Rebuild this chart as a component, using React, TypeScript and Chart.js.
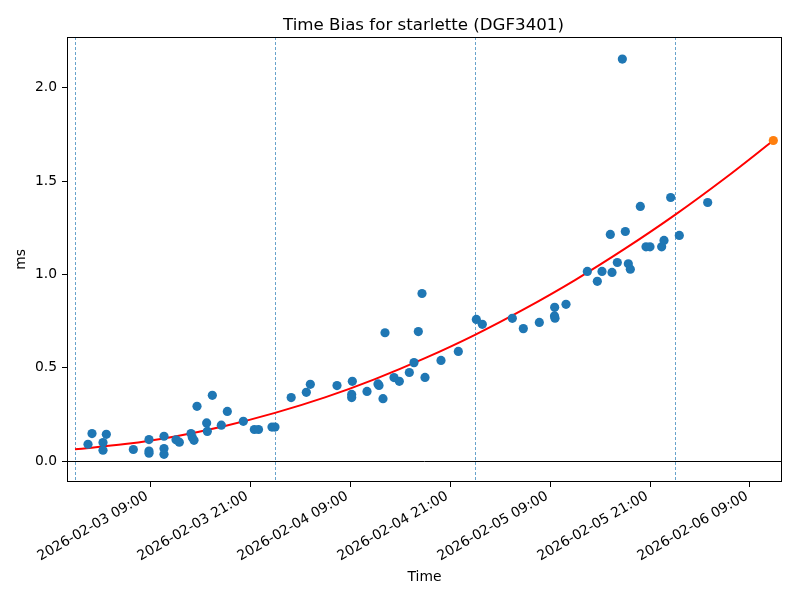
import React, { useEffect, useRef } from "react";
import { Chart, registerables } from "chart.js";

Chart.register(...registerables);

// Hours since 2026-02-03 00:00
const biasHours = [
  1.56, 2.04, 3.36, 3.36, 3.76, 7.0, 8.88, 8.88, 8.88, 10.68, 10.68, 10.68,
  12.12, 12.52, 13.92, 14.08, 14.28, 14.64, 15.8, 15.88, 16.48, 17.56, 18.28,
  20.2, 21.52, 22.02, 23.64, 24.0, 25.94, 27.76, 28.24, 31.44, 33.28, 33.2,
  33.2, 35.04, 36.48, 36.36, 36.96, 37.2, 38.28, 38.92, 40.12, 40.68, 41.2,
  41.64, 42.0, 43.92, 46.0, 48.16, 48.88, 52.48, 53.8, 55.72, 57.56, 57.6,
  57.54, 58.92, 61.48, 62.68, 63.24, 64.44, 64.24, 65.08, 65.68, 66.04, 66.4,
  66.64, 67.84, 68.52, 69.0, 70.4, 70.68, 71.48, 72.52, 75.92,
];
const biasMs = [
  0.091, 0.148, 0.1, 0.059, 0.144, 0.063, 0.116, 0.055, 0.043, 0.134, 0.068,
  0.037, 0.115, 0.102, 0.148, 0.127, 0.112, 0.294, 0.205, 0.16, 0.353, 0.193,
  0.267, 0.214, 0.17, 0.17, 0.183, 0.183, 0.341, 0.369, 0.412, 0.405, 0.428,
  0.358, 0.341, 0.374, 0.406, 0.414, 0.335, 0.688, 0.448, 0.428, 0.475, 0.528,
  0.694, 0.898, 0.449, 0.54, 0.588, 0.759, 0.733, 0.765, 0.71, 0.743, 0.824,
  0.766, 0.778, 0.84, 1.016, 0.963, 1.016, 1.011, 1.214, 1.064, 2.153, 1.23,
  1.057, 1.028, 1.364, 1.148, 1.148, 1.148, 1.182, 1.412, 1.209, 1.385,
];

const fitHours = [0, 6, 12, 18, 24, 30, 36, 42, 48, 54, 60, 66, 72, 78, 83.8];
const fitMs = [
  0.064, 0.092, 0.133, 0.189, 0.259, 0.342, 0.44, 0.552, 0.677, 0.817, 0.97,
  1.138, 1.319, 1.515, 1.717,
];

const predHours = [83.8];
const predMs = [1.717];

const midnightHours = [0, 24, 48, 72];

const xTickHours = [9, 21, 33, 45, 57, 69, 81];
const xTickLabels = [
  "2026-02-03 09:00",
  "2026-02-03 21:00",
  "2026-02-04 09:00",
  "2026-02-04 21:00",
  "2026-02-05 09:00",
  "2026-02-05 21:00",
  "2026-02-06 09:00",
];
const yTicks = [0, 0.5, 1.0, 1.5, 2.0];
const yTickLabels = ["0.0", "0.5", "1.0", "1.5", "2.0"];

const X_MIN = -0.96;
const X_MAX = 84.84;
const Y_MIN = -0.111;
const Y_MAX = 2.271;

const FONT = "'DejaVu Sans', sans-serif";
const TITLE = "Time Bias for starlette (DGF3401)";

const decorPlugin = {
  id: "decor",
  beforeDatasetsDraw(chart: any) {
    const { ctx, chartArea: a, scales } = chart;
    const x = scales.x;
    const y = scales.y;
    ctx.save();
    ctx.beginPath();
    ctx.rect(a.left, a.top, a.right - a.left, a.bottom - a.top);
    ctx.clip();
    ctx.strokeStyle = "rgba(31,119,180,0.85)";
    ctx.lineWidth = 0.8;
    ctx.setLineDash([3, 2]);
    for (const h of midnightHours) {
      const px = Math.round(x.getPixelForValue(h)) + 0.5;
      ctx.beginPath();
      ctx.moveTo(px, a.top);
      ctx.lineTo(px, a.bottom);
      ctx.stroke();
    }
    ctx.setLineDash([]);
    ctx.strokeStyle = "#000";
    ctx.lineWidth = 1;
    const py = Math.round(y.getPixelForValue(0)) + 0.5;
    ctx.beginPath();
    ctx.moveTo(a.left, py);
    ctx.lineTo(a.right, py);
    ctx.stroke();
    ctx.restore();
  },
  afterDraw(chart: any) {
    const { ctx, chartArea: a } = chart;
    ctx.save();
    ctx.strokeStyle = "#000";
    ctx.lineWidth = 1;
    ctx.strokeRect(
      Math.round(a.left) + 0.5,
      Math.round(a.top) + 0.5,
      Math.round(a.right - a.left) - 1,
      Math.round(a.bottom - a.top) - 1
    );
    ctx.fillStyle = "#000";
    ctx.font = `16.67px ${FONT}`;
    ctx.textAlign = "center";
    ctx.textBaseline = "alphabetic";
    ctx.fillText(TITLE, (a.left + a.right) / 2 - 1, 29.5);
    ctx.restore();
  },
};

export default function App() {
  const ref = useRef<HTMLCanvasElement | null>(null);

  useEffect(() => {
    if (!ref.current) return;
    const chart = new Chart(ref.current, {
      type: "scatter",
      data: {
        datasets: [
          {
            label: "predicted",
            data: predHours.map((h, i) => ({ x: h, y: predMs[i] })),
            backgroundColor: "#ff7f0e",
            borderColor: "#ff7f0e",
            pointRadius: 4.6,
            pointBorderWidth: 0,
            order: 0,
          },
          {
            label: "bias",
            data: biasHours.map((h, i) => ({ x: h, y: biasMs[i] })),
            backgroundColor: "#1f77b4",
            borderColor: "#1f77b4",
            pointRadius: 4.6,
            pointBorderWidth: 0,
            order: 1,
          },
          {
            label: "fit",
            data: fitHours.map((h, i) => ({ x: h, y: fitMs[i] })),
            showLine: true,
            borderColor: "#ff0000",
            backgroundColor: "#ff0000",
            borderWidth: 2,
            pointRadius: 0,
            cubicInterpolationMode: "monotone",
            order: 2,
          } as any,
        ],
      },
      options: {
        animation: false,
        responsive: false,
        devicePixelRatio: 1,
        layout: { padding: { top: 37, right: 18, left: 0, bottom: 0 } },
        plugins: {
          legend: { display: false },
          tooltip: { enabled: false },
          title: { display: false },
        },
        scales: {
          x: {
            type: "linear",
            min: X_MIN,
            max: X_MAX,
            afterBuildTicks: (s: any) => {
              s.ticks = xTickHours.map((v) => ({ value: v }));
            },
            afterFit: (s: any) => {
              s.height = 118;
            },
            ticks: {
              autoSkip: false,
              minRotation: 30,
              maxRotation: 30,
              labelOffset: -3,
              padding: 1,
              color: "#000",
              font: { family: FONT, size: 13.89 },
              callback: (v: any) => {
                const i = xTickHours.indexOf(Number(v));
                return i >= 0 ? xTickLabels[i] : "";
              },
            },
            grid: {
              drawOnChartArea: false,
              drawTicks: true,
              tickLength: 5,
              color: "#000",
              lineWidth: 1,
            },
            border: { display: false },
            title: {
              display: true,
              text: "Time",
              color: "#000",
              font: { family: FONT, size: 13.89 },
              padding: { top: 0, bottom: 14 },
            },
          },
          y: {
            type: "linear",
            min: Y_MIN,
            max: Y_MAX,
            afterBuildTicks: (s: any) => {
              s.ticks = yTicks.map((v) => ({ value: v }));
            },
            afterFit: (s: any) => {
              s.width = 67;
            },
            ticks: {
              padding: 5,
              color: "#000",
              font: { family: FONT, size: 13.89 },
              callback: (v: any) => {
                const i = yTicks.indexOf(Number(v));
                return i >= 0 ? yTickLabels[i] : "";
              },
            },
            grid: {
              drawOnChartArea: false,
              drawTicks: true,
              tickLength: 5,
              color: "#000",
              lineWidth: 1,
            },
            border: { display: false },
            title: {
              display: true,
              text: "ms",
              color: "#000",
              font: { family: FONT, size: 13.89 },
              padding: { top: 13, bottom: 0 },
            },
          },
        },
      },
      plugins: [decorPlugin],
    });
    return () => chart.destroy();
  }, []);

  return (
    <div style={{ position: "absolute", left: 0, top: 0, width: 800, height: 600, background: "#fff" }}>
      <canvas ref={ref} width={800} height={600} style={{ width: 800, height: 600 }} />
    </div>
  );
}
